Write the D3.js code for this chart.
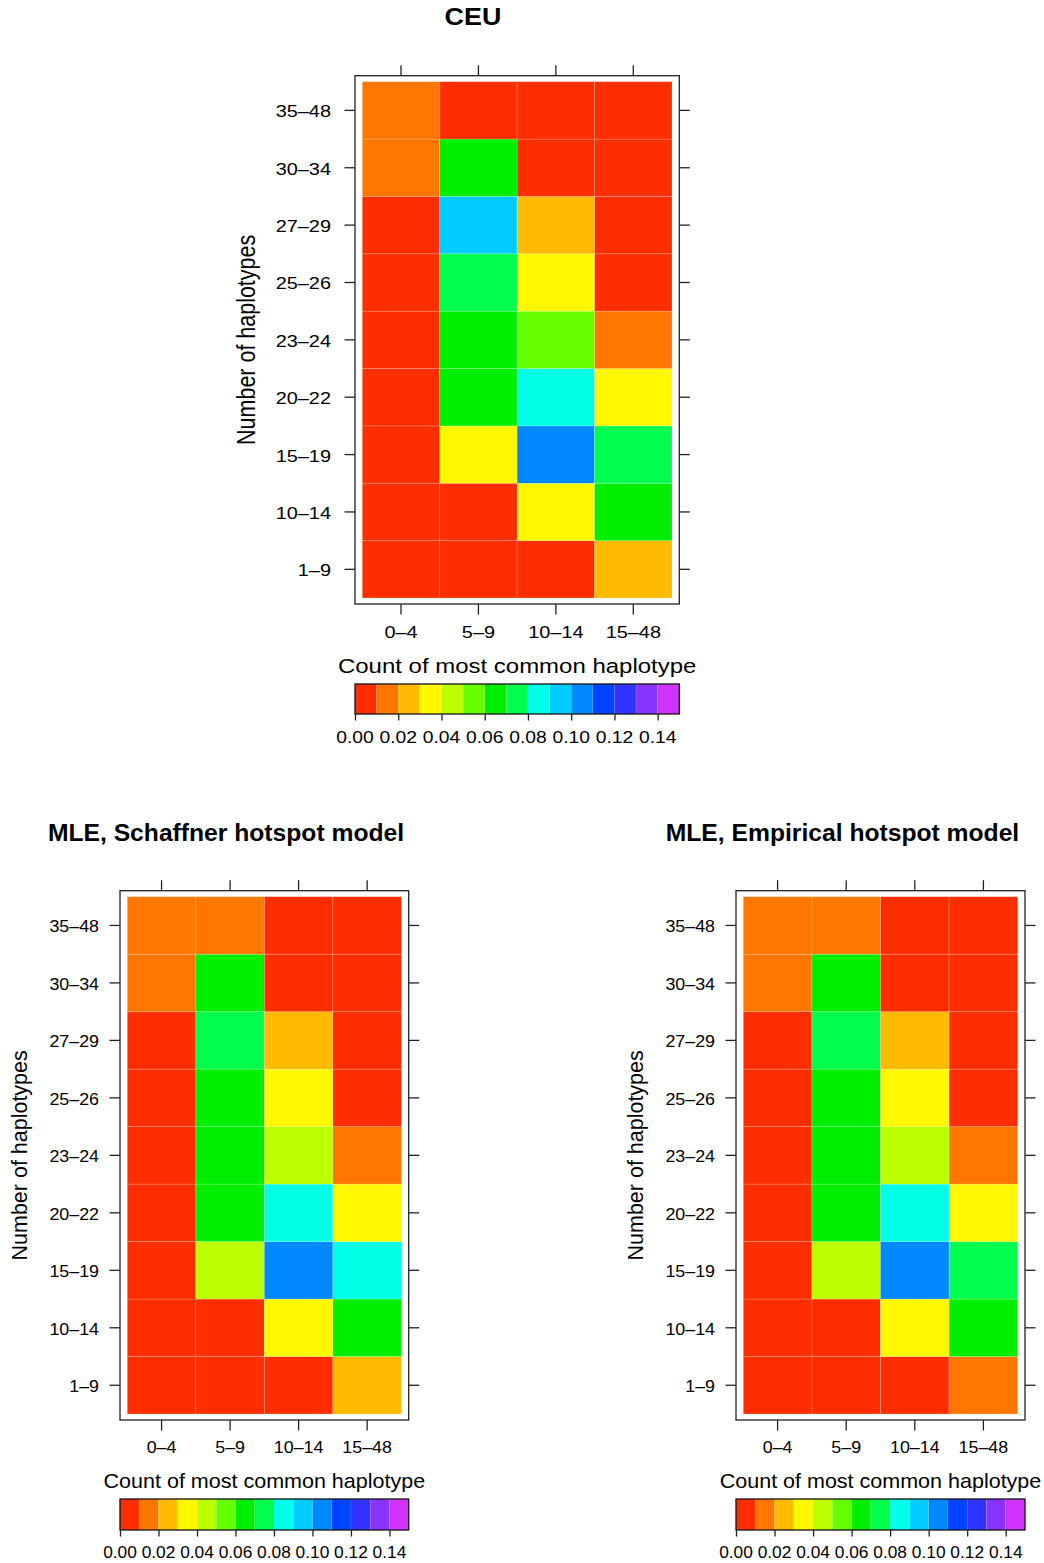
<!DOCTYPE html>
<html>
<head>
<meta charset="utf-8">
<script src="https://cdn.jsdelivr.net/npm/d3@7"></script>
<style>
  html, body { margin: 0; padding: 0; background: #ffffff; }
  svg { display: block; }
  text { font-family: "Liberation Sans", Arial, Helvetica, sans-serif; fill: #000; }
</style>
</head>
<body>
<svg id="chart" width="1044" height="1563"></svg>
<script>
// Row bins: number of haplotypes (bottom to top)
const rowLabels = ["1–9", "10–14", "15–19", "20–22", "23–24", "25–26", "27–29", "30–34", "35–48"];
// Column bins: count of most common haplotype
const colLabels = ["0–4", "5–9", "10–14", "15–48"];

// Proportions per cell, one row per haplotype-count bin (1–9 first)
const ceuValues = [
  [0.004, 0.006, 0.007, 0.025],
  [0.005, 0.008, 0.035, 0.064],
  [0.006, 0.034, 0.104, 0.073],
  [0.007, 0.065, 0.085, 0.036],
  [0.006, 0.066, 0.055, 0.016],
  [0.005, 0.074, 0.036, 0.008],
  [0.004, 0.094, 0.027, 0.006],
  [0.013, 0.063, 0.007, 0.005],
  [0.015, 0.008, 0.004, 0.003]
];
const schaffnerValues = [
  [0.005, 0.007, 0.008, 0.026],
  [0.006, 0.009, 0.034, 0.066],
  [0.007, 0.045, 0.103, 0.084],
  [0.006, 0.064, 0.083, 0.035],
  [0.006, 0.065, 0.044, 0.017],
  [0.005, 0.066, 0.035, 0.008],
  [0.004, 0.075, 0.026, 0.006],
  [0.014, 0.063, 0.008, 0.005],
  [0.016, 0.013, 0.004, 0.003]
];
const empiricalValues = [
  [0.005, 0.007, 0.008, 0.017],
  [0.006, 0.009, 0.035, 0.065],
  [0.007, 0.046, 0.104, 0.076],
  [0.006, 0.064, 0.084, 0.036],
  [0.006, 0.065, 0.045, 0.016],
  [0.005, 0.066, 0.034, 0.008],
  [0.004, 0.074, 0.027, 0.006],
  [0.014, 0.064, 0.008, 0.005],
  [0.016, 0.014, 0.004, 0.003]
];

// Colour key: 15 bins of width 0.01 from 0 to 0.15
const keyDomain = [0, 0.15];
const keyColors = [
  "#FF2E00", "#FF7700", "#FFBB00", "#FFF800", "#BBFF00",
  "#66FF00", "#00EE00", "#00FF4D", "#00FFE6", "#00CCFF",
  "#0088FF", "#0044FF", "#3333FF", "#8833FF", "#D033FF"
];
const keyTicks = [0.00, 0.02, 0.04, 0.06, 0.08, 0.10, 0.12, 0.14];

const panelTitles = ["CEU", "MLE, Schaffner hotspot model", "MLE, Empirical hotspot model"];
const xTitle = "Count of most common haplotype";
const yTitle = "Number of haplotypes";

// Page layout of each panel
const layouts = [
  { values: ceuValues, title: panelTitles[0], box: [355, 75.7, 679.3, 604], sx: 1.17,
    titlePos: [473, 25], titleSize: 23, yTitleX: 255, yLabRight: 331, xLabBase: 638, xTitleBase: 673,
    key: [684, 714], keyLabBase: 743 },
  { values: schaffnerValues, title: panelTitles[1], box: [120, 890.7, 408.7, 1420], sx: 1.05,
    titlePos: [226, 841], titleSize: 23.5, yTitleX: 26.7, yLabRight: 99, xLabBase: 1453, xTitleBase: 1488,
    key: [1499, 1530], keyLabBase: 1558 },
  { values: empiricalValues, title: panelTitles[2], box: [736, 890.7, 1025, 1420], sx: 1.05,
    titlePos: [842.5, 841], titleSize: 23.5, yTitleX: 642.7, yLabRight: 715, xLabBase: 1453, xTitleBase: 1488,
    key: [1499, 1530], keyLabBase: 1558 }
];

const color = d3.scaleQuantize().domain(keyDomain).range(keyColors);
const svg = d3.select("#chart");
const fmt = d3.format(".2f");
const inset = { x: 7.3, y: 6 };
const tickLen = 10.5;

function label(g, x, y, str, sx, size, anchor, weight) {
  return g.append("text")
    .attr("transform", `translate(${x},${y}) scale(${sx},1)`)
    .attr("text-anchor", anchor || "middle")
    .style("font-size", size + "px")
    .style("font-weight", weight || "normal")
    .text(str);
}

layouts.forEach(p => {
  const [bx0, by0, bx1, by1] = p.box;
  const g = svg.append("g");

  const x = d3.scaleBand().domain(colLabels).range([bx0 + inset.x, bx1 - inset.x]);
  const y = d3.scaleBand().domain(rowLabels).range([by1 - inset.y, by0 + inset.y]);

  // cells
  const cells = [];
  p.values.forEach((row, i) => row.forEach((v, j) => cells.push({ r: rowLabels[i], c: colLabels[j], v })));
  g.append("g").selectAll("rect").data(cells).join("rect")
    .attr("x", d => x(d.c))
    .attr("y", d => y(d.r))
    .attr("width", x.bandwidth())
    .attr("height", y.bandwidth())
    .attr("fill", d => color(d.v))
    .attr("stroke", "rgba(255,255,255,0.22)")
    .attr("stroke-width", 0.8);

  // frame
  g.append("rect")
    .attr("x", bx0).attr("y", by0)
    .attr("width", bx1 - bx0).attr("height", by1 - by0)
    .attr("fill", "none").attr("stroke", "#222").attr("stroke-width", 1.3);

  // tick marks on all four sides
  const tickAxes = [
    [d3.axisTop(x), `translate(0,${by0})`],
    [d3.axisBottom(x), `translate(0,${by1})`],
    [d3.axisLeft(y), `translate(${bx0},0)`],
    [d3.axisRight(y), `translate(${bx1},0)`]
  ];
  tickAxes.forEach(([ax, tr]) => {
    const a = g.append("g").attr("transform", tr)
      .call(ax.tickSize(tickLen).tickFormat(""));
    a.select(".domain").remove();
    a.selectAll("line").attr("stroke", "#222").attr("stroke-width", 1.3);
  });

  // tick labels
  colLabels.forEach(c => label(g, x(c) + x.bandwidth() / 2, p.xLabBase, c, p.sx, 17, "middle"));
  rowLabels.forEach(r => label(g, p.yLabRight, y(r) + y.bandwidth() / 2 + 7, r, p.sx, 17, "end"));

  // axis titles
  const cx = (bx0 + bx1) / 2;
  label(g, cx, p.xTitleBase, xTitle, p.sx, 20.5, "middle");
  g.append("text")
    .attr("transform", `translate(${p.yTitleX},${(by0 + by1) / 2}) scale(${p.sx},1) rotate(-90)`)
    .attr("text-anchor", "middle")
    .style("font-size", "21.5px")
    .text(yTitle);

  // panel title
  label(g, p.titlePos[0], p.titlePos[1], p.title, p.sx, p.titleSize, "middle", "bold");

  // colour key
  const k = d3.scaleLinear().domain(keyDomain).range([bx0, bx1]);
  const [ky0, ky1] = p.key;
  const bins = d3.range(keyColors.length).map(i => color.invertExtent(keyColors[i]));
  g.append("g").selectAll("rect").data(bins).join("rect")
    .attr("x", d => k(d[0]))
    .attr("y", ky0)
    .attr("width", d => k(d[1]) - k(d[0]))
    .attr("height", ky1 - ky0)
    .attr("fill", (d, i) => keyColors[i])
    .attr("stroke", "rgba(255,255,255,0.15)")
    .attr("stroke-width", 0.6);
  g.append("rect")
    .attr("x", bx0).attr("y", ky0)
    .attr("width", bx1 - bx0).attr("height", ky1 - ky0)
    .attr("fill", "none").attr("stroke", "#111").attr("stroke-width", 1.3);
  const ka = g.append("g").attr("transform", `translate(0,${ky1})`)
    .call(d3.axisBottom(k).tickValues(keyTicks).tickSize(6.5).tickFormat(""));
  ka.select(".domain").remove();
  ka.selectAll("line").attr("stroke", "#222").attr("stroke-width", 1.3);
  keyTicks.forEach(t => label(g, k(t), p.keyLabBase, fmt(t), p.sx, 16.5, "middle"));
});
</script>
</body>
</html>
